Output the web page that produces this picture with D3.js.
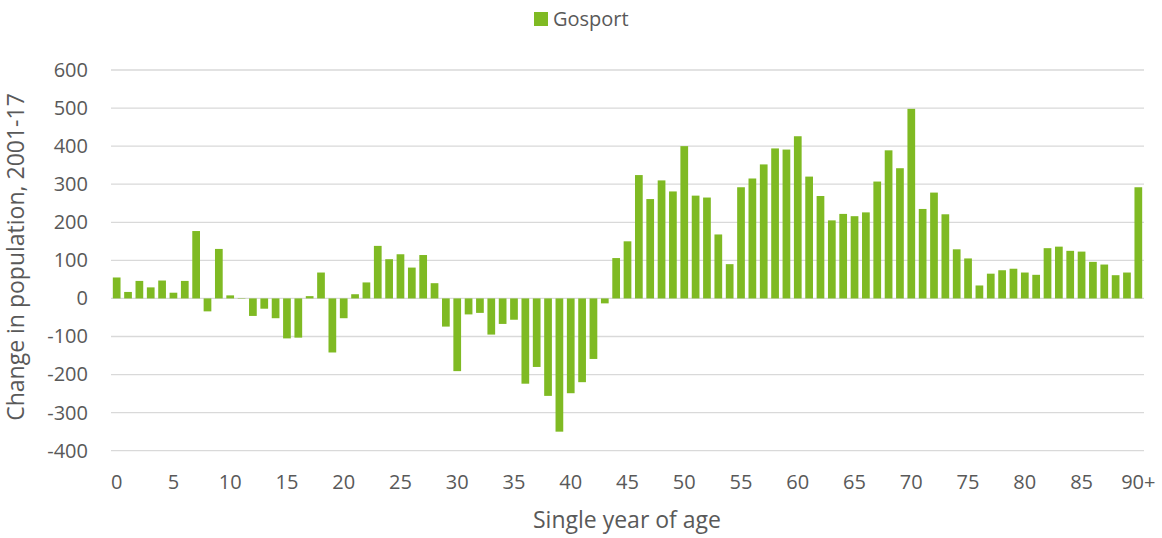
<!DOCTYPE html>
<html><head><meta charset="utf-8">
<script src="https://cdn.jsdelivr.net/npm/d3@7"></script>
<style>body{margin:0;background:#fff;} text{font-family:"Open Sans","Noto Sans",sans-serif;fill:#595959;}</style>
</head><body>
<svg id="c" width="1162" height="538"></svg>
<script>
const ages = d3.range(0, 91).map(d => d === 90 ? "90+" : String(d));
const values = [55,17,46,29,47,15,46,177,-34,130,8,1,-46,-27,-52,-105,-103,6,68,-142,
  -52,11,42,138,103,116,81,114,40,-74,-191,-42,-38,-95,-67,-56,-224,-180,-256,-350,
  -249,-220,-159,-13,106,150,324,261,310,281,400,270,265,168,90,292,315,352,394,391,
  426,320,269,205,222,216,226,307,389,342,498,235,278,221,129,105,34,65,74,78,
  68,62,132,136,125,123,96,89,61,68,292];
const yTicks = [-400,-300,-200,-100,0,100,200,300,400,500,600];
const seriesName = "Gosport";
const color = "#7FBA23";

const svg = d3.select("#c");
const pL = 111, pR = 1144, pT = 70, pB = 450.7;
const x = d3.scaleBand().domain(ages).range([pL, pR]).paddingInner(0.32).paddingOuter(0.16);
const y = d3.scaleLinear().domain([-400, 600]).range([pB, pT]);

svg.append("g").selectAll("line").data(yTicks).join("line")
  .attr("x1", pL).attr("x2", pR)
  .attr("y1", d => y(d)).attr("y2", d => y(d))
  .attr("stroke", "#d9d9d9").attr("stroke-width", 1.3);

svg.append("g").selectAll("rect").data(values).join("rect")
  .attr("x", (d, i) => x(ages[i]))
  .attr("width", x.bandwidth())
  .attr("y", d => y(Math.max(0, d)))
  .attr("height", d => Math.abs(y(d) - y(0)))
  .attr("fill", color);

const fontFam = "'Open Sans','Noto Sans',sans-serif";
const yAxis = d3.axisLeft(y).tickValues(yTicks).tickFormat(d => String(d)).tickSize(0).tickPadding(0);
const gy = svg.append("g").attr("transform", "translate(88,0)").call(yAxis);
gy.select(".domain").remove();
gy.selectAll("text").style("font-size", "20px").style("fill", "#595959").style("font-family", fontFam);

const xAxis = d3.axisBottom(x).tickValues(ages.filter((d, i) => i % 5 === 0)).tickSize(0).tickPadding(0);
const gx = svg.append("g").attr("transform", "translate(0,474.8)").call(xAxis);
gx.select(".domain").remove();
gx.selectAll("text").style("font-size", "20px").style("fill", "#595959").style("font-family", fontFam);

svg.append("text").attr("x", 627).attr("y", 528).attr("text-anchor", "middle")
  .style("font-size", "23px").text("Single year of age");
svg.append("text").attr("transform", "translate(24,257) rotate(-90)").attr("text-anchor", "middle")
  .style("font-size", "23px").text("Change in population, 2001-17");

svg.append("rect").attr("x", 534).attr("y", 12).attr("width", 14).attr("height", 14).attr("fill", color);
svg.append("text").attr("x", 553).attr("y", 26).style("font-size", "20px").text(seriesName);
</script>
</body></html>
